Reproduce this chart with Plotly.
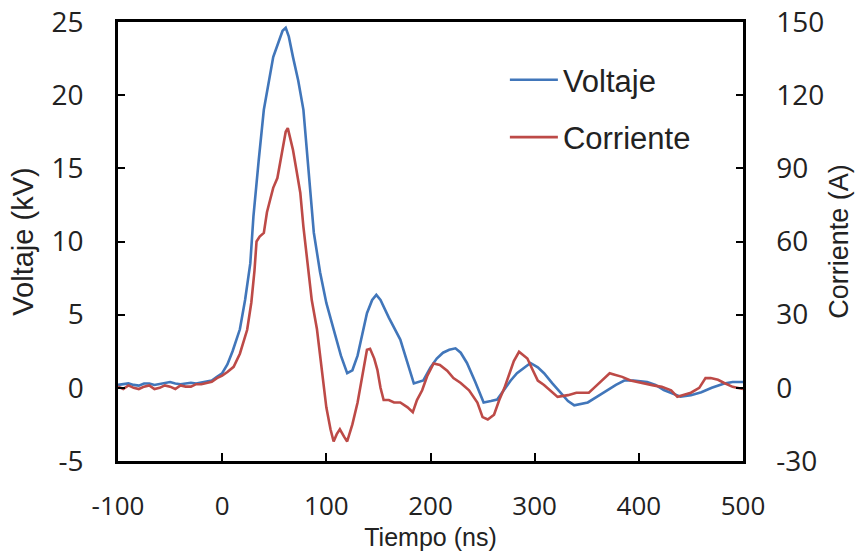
import plotly.graph_objects as go

# Voltage trace (kV) versus time (ns)
t_voltaje = [-100, -95, -90, -85, -80, -75, -70, -65, -60, -55, -50, -45, -40, -35, -30, -25,
             -20, -15, -10, -5, 0, 5, 10, 17, 22, 27, 30, 35, 40, 45, 49, 55, 58, 61, 64, 68,
             73, 78, 83, 88, 94, 100, 107, 114, 120, 125, 130, 135, 139, 144, 148, 152, 160,
             171, 178, 184, 193, 200, 206, 212, 218, 224, 229, 235, 243, 251, 258, 264, 270,
             277, 283, 290, 296, 303, 309, 317, 325, 332, 338, 345, 351, 360, 370, 378, 386,
             395, 408, 416, 424, 432, 440, 450, 460, 470, 482, 490, 500]
voltaje_kv = [0.2, 0.25, 0.3, 0.2, 0.15, 0.3, 0.3, 0.2, 0.25, 0.3, 0.4, 0.3, 0.25, 0.3, 0.35,
              0.3, 0.35, 0.45, 0.5, 0.75, 1.0, 1.6, 2.5, 4.0, 6.0, 8.5, 11.7, 15.5, 19.0, 21.0,
              22.6, 23.8, 24.4, 24.6, 24.0, 22.6, 21.0, 19.0, 14.5, 10.6, 7.9, 5.8, 4.0, 2.2,
              1.0, 1.2, 2.2, 3.8, 5.1, 6.0, 6.35, 6.0, 4.8, 3.3, 1.6, 0.3, 0.5, 1.4, 2.0, 2.4,
              2.6, 2.7, 2.4, 1.7, 0.4, -1.0, -0.9, -0.8, -0.2, 0.5, 1.0, 1.4, 1.7, 1.4, 1.0,
              0.3, -0.35, -0.9, -1.2, -1.1, -1.0, -0.6, -0.15, 0.2, 0.5, 0.5, 0.4, 0.2, -0.15,
              -0.4, -0.6, -0.5, -0.3, 0.0, 0.3, 0.4, 0.4]

# Current trace (A) versus time (ns)
t_corriente = [-100, -95, -90, -85, -80, -75, -70, -65, -60, -55, -50, -45, -40, -35, -30,
               -25, -20, -15, -10, -5, 0, 5, 11, 17, 24, 28, 31, 33, 36, 40, 43, 46, 49, 53,
               56, 59, 61, 63, 65, 68, 71, 75, 78, 82, 86, 91, 94, 97, 100, 104, 107, 110, 113,
               117, 120, 125, 130, 135, 139, 142, 146, 149, 152, 155, 160, 165, 171, 178, 183,
               187, 192, 197, 203, 209, 216, 222, 229, 237, 245, 250, 255, 261, 266, 271, 276,
               280, 285, 293, 298, 303, 309, 315, 322, 332, 340, 347, 352, 357, 362, 367, 372,
               376, 384, 392, 402, 414, 422, 431, 437, 443, 450, 458, 464, 469, 476, 482, 490,
               500]
corriente_a = [0.5, -0.5, 1, 0, -0.5, 0.5, 1, -0.5, 0, 1, 0.5, -0.5, 1, 0.5, 0.5, 1.5, 1.5,
               2, 2.5, 4, 5, 6.5, 8.6, 14, 23.8, 35, 48, 60, 62, 63.5, 72, 77, 82, 86, 93, 100,
               105, 106.5, 103, 97.5, 90, 80, 66, 51, 36, 24, 13, 3, -8, -17, -22, -19, -17,
               -20, -22, -15, -6, 6, 15.6, 16, 12, 7.4, 0, -5, -5, -6, -6, -8, -10, -5, -1, 5,
               10, 9.4, 7, 4, 2, -1, -6, -12, -13, -11, -5, 0, 6, 11, 14.8, 12, 7.4, 3, 1.2, -1,
               -3.7, -3, -2, -2, -2, 0, 2, 4, 6, 5.5, 4.5, 3, 2, 1, 0.4, -1, -3.7, -3, -2, 0, 4,
               4, 3.3, 2, 0.4, -0.5, -0.8]

x_ticks = [-100, 0, 100, 200, 300, 400, 500]
v_ticks = [-5, 0, 5, 10, 15, 20, 25]
i_ticks = [-30, 0, 30, 60, 90, 120, 150]

AZUL = "#4176BA"
ROJO = "#BD4A47"
INK = "#222222"
TICK_FONT = dict(family="Open Sans, Noto Sans, sans-serif", size=28, color=INK)
SANS = "Liberation Sans, Arial, sans-serif"

fig = go.Figure()
fig.add_trace(go.Scatter(x=t_voltaje, y=voltaje_kv, mode="lines", name="Voltaje",
                         line=dict(color=AZUL, width=2.6), legendgroup="v"))
fig.add_trace(go.Scatter(x=t_corriente, y=corriente_a, mode="lines", name="Corriente",
                         line=dict(color=ROJO, width=2.6), yaxis="y2", legendgroup="c"))

axis_common = dict(showline=True, linecolor="black", linewidth=2.5, ticks="inside",
                   tickwidth=1.5, tickcolor="black", showgrid=False, zeroline=False,
                   automargin=False)

fig.update_layout(
    width=855, height=558,
    margin=dict(l=118, r=112, t=22, b=97),
    paper_bgcolor="white", plot_bgcolor="white",
    showlegend=True,
    legend=dict(x=0.619, y=0.929, xanchor="left", yanchor="top",
                font=dict(family=SANS, size=31, color=INK),
                bgcolor="rgba(0,0,0,0)", tracegroupgap=14, itemwidth=48),
    xaxis=dict(range=[-100, 500], tickvals=x_ticks, ticktext=[str(v) for v in x_ticks],
               mirror=True, ticklen=8,
               tickfont=dict(family="Open Sans, Noto Sans, sans-serif", size=26, color=INK),
               ticklabelstandoff=20,
               title=dict(text="Tiempo (ns)", standoff=7,
                          font=dict(family=SANS, size=25, color=INK)),
               **axis_common),
    yaxis=dict(range=[-5, 25], tickvals=v_ticks, ticktext=[str(v) for v in v_ticks],
               ticklen=7, tickfont=TICK_FONT, ticklabelstandoff=26,
               title=dict(text="Voltaje (kV)", standoff=10,
                          font=dict(family=SANS, size=29, color=INK)),
               **axis_common),
    yaxis2=dict(range=[-30, 150], tickvals=i_ticks, ticktext=[str(v) for v in i_ticks],
                overlaying="y", side="right", ticklen=7, tickfont=TICK_FONT,
                ticklabelstandoff=25,
                title=dict(text="Corriente (A)", standoff=6,
                           font=dict(family=SANS, size=27, color=INK)),
                **axis_common),
)

fig.write_html("out.html")
